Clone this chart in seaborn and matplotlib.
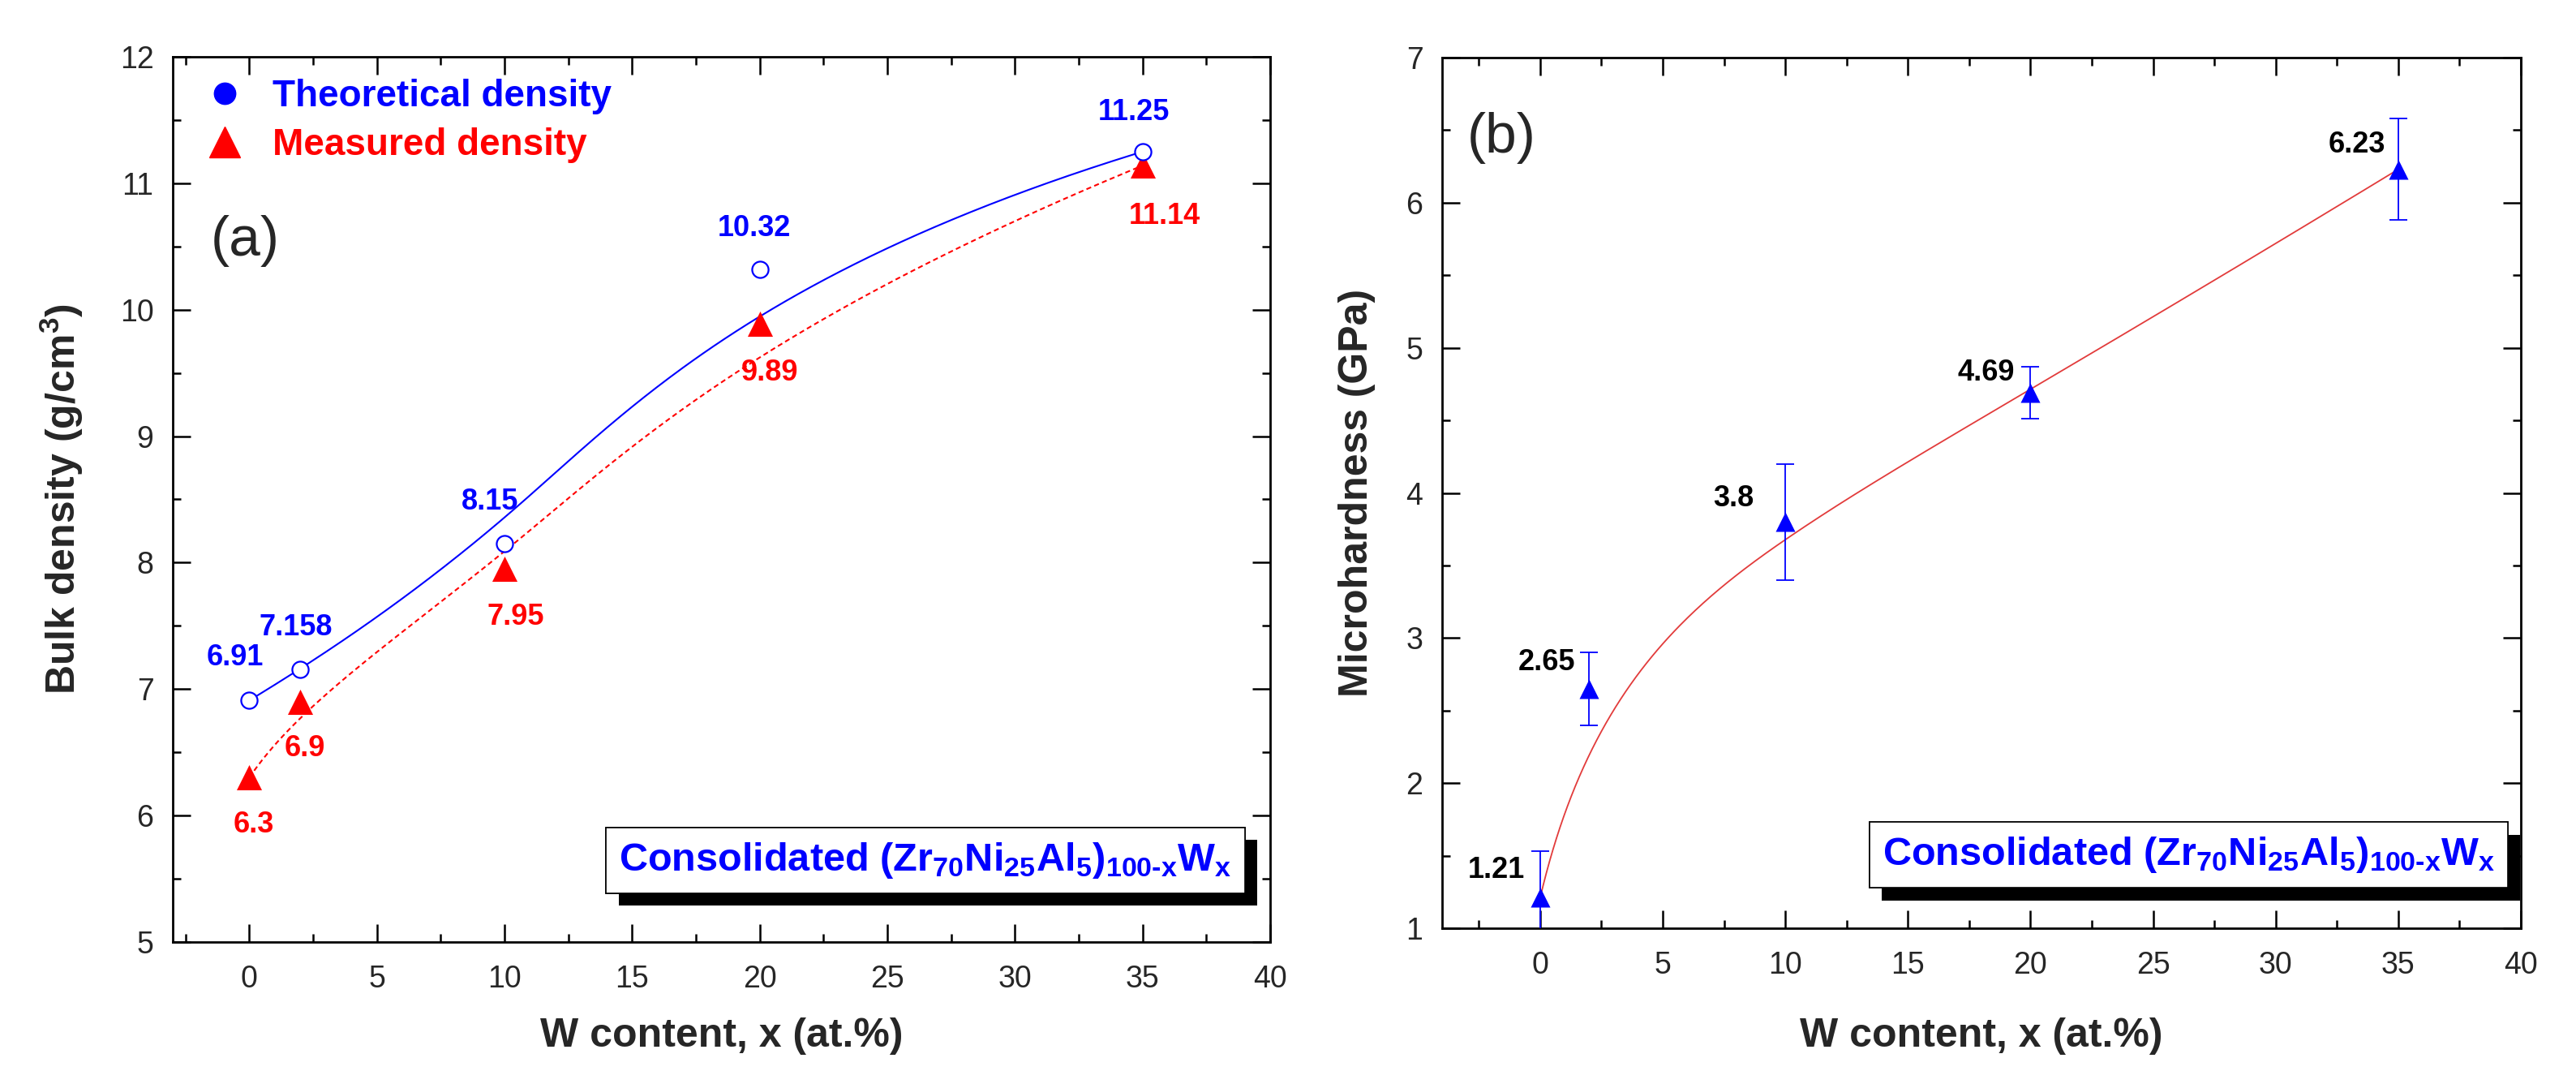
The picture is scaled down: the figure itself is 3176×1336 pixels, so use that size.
import numpy as np
import matplotlib
matplotlib.use('Agg')
import matplotlib.pyplot as plt
import matplotlib.patheffects as pe
from matplotlib.lines import Line2D
from matplotlib.ticker import MultipleLocator
import seaborn as sns

# ---- data ----
w_content = [0, 2, 10, 20, 35]
theo_density = [6.91, 7.158, 8.15, 10.32, 11.25]
meas_density = [6.3, 6.9, 7.95, 9.89, 11.14]
theo_text = ['6.91', '7.158', '8.15', '10.32', '11.25']
meas_text = ['6.3', '6.9', '7.95', '9.89', '11.14']

hardness = [1.21, 2.65, 3.8, 4.69, 6.23]
hardness_err = [0.32, 0.25, 0.40, 0.18, 0.35]
hard_text = ['1.21', '2.65', '3.8', '4.69', '6.23']

# label offsets (data units) from each point
theo_off = [(-0.57, 0.34), (-0.18, 0.33), (-0.57, 0.33), (-0.2, 0.32), (-0.35, 0.31)]
meas_off = [(0.18, -0.37), (0.17, -0.37), (0.45, -0.38), (0.4, -0.39), (0.85, -0.40)]
hard_off = [(-1.79, 0.19), (-1.73, 0.18), (-2.1, 0.16), (-1.8, 0.14), (-1.7, 0.17)]

sample_txt = r'Consolidated (Zr$_{70}$Ni$_{25}$Al$_{5}$)$_{100\text{-}x}$W$_{x}$'


def bspline(px, py, n=300, k=3):
    # clamped uniform B-spline using the data points as control points
    px = np.asarray(px, float)
    py = np.asarray(py, float)
    m = len(px)
    knots = np.r_[[0.0] * k, np.linspace(0, 1, m - k + 1), [1.0] * k]
    t = np.linspace(0, 1, n)
    t[-1] -= 1e-9
    B = np.array([(knots[i] <= t) & (t < knots[i + 1]) for i in range(len(knots) - 1)], float)
    for d in range(1, k + 1):
        Bn = np.zeros((len(knots) - 1 - d, n))
        for i in range(len(knots) - 1 - d):
            left = knots[i + d] - knots[i]
            right = knots[i + d + 1] - knots[i + 1]
            a = (t - knots[i]) / left * B[i] if left > 0 else 0
            b = (knots[i + d + 1] - t) / right * B[i + 1] if right > 0 else 0
            Bn[i] = a + b
        B = Bn
    return B.T @ px, B.T @ py


sns.set_style('ticks')
plt.rcParams['font.family'] = ['Liberation Sans', 'DejaVu Sans']
plt.rcParams['mathtext.fontset'] = 'custom'
plt.rcParams['mathtext.rm'] = 'Liberation Sans:bold'
plt.rcParams['mathtext.bf'] = 'Liberation Sans:bold'
plt.rcParams['mathtext.it'] = 'Liberation Sans:bold'
plt.rcParams['mathtext.default'] = 'bf'

fig = plt.figure(figsize=(31.76, 13.36), dpi=100)
ax1 = fig.add_axes([0.06707, 0.13099, 0.42601, 0.81662])
ax2 = fig.add_axes([0.55982, 0.14371, 0.41877, 0.80314])


def style_axes(ax):
    for s in ax.spines.values():
        s.set_linewidth(2.0)
        s.set_color('black')
    ax.xaxis.set_major_locator(MultipleLocator(5))
    ax.xaxis.set_minor_locator(MultipleLocator(2.5))
    ax.yaxis.set_major_locator(MultipleLocator(1))
    ax.yaxis.set_minor_locator(MultipleLocator(0.5))
    ax.tick_params(which='both', direction='in', top=True, right=True,
                   width=1.8, color='black')
    ax.tick_params(which='major', length=16, labelsize=27)
    ax.tick_params(which='minor', length=7.5)
    ax.tick_params(axis='y', pad=17)
    ax.tick_params(axis='x', pad=20)


def shadow_box(ax, x, y):
    t = ax.text(x, y, sample_txt, transform=ax.transAxes, ha='center',
                va='center', fontsize=35, color='blue', fontweight='bold',
                bbox=dict(boxstyle='square,pad=0.33', fc='white', ec='black', lw=1.2),
                zorder=6)
    t.get_bbox_patch().set_path_effects([
        pe.withSimplePatchShadow(offset=(11, -11), shadow_rgbFace='black', alpha=1.0),
        pe.Normal()])


# ---------------- (a) density ----------------
bx, by = bspline(w_content, theo_density)
sns.lineplot(x=bx, y=by, ax=ax1, sort=False, estimator=None, color='blue', lw=1.5)
mx, my = bspline(w_content, meas_density)
sns.lineplot(x=mx, y=my, ax=ax1, sort=False, estimator=None, color='red', lw=1.5,
             linestyle=(0, (3, 2)))
sns.scatterplot(x=w_content, y=meas_density, ax=ax1, marker='^', s=500,
                color='red', edgecolor='red', linewidth=0, zorder=4)
sns.scatterplot(x=w_content, y=theo_density, ax=ax1, marker='o', s=210,
                facecolor='white', edgecolor='blue', linewidth=1.6, zorder=5)

for xv, yv, lab, (dx, dy) in zip(w_content, theo_density, theo_text, theo_off):
    ax1.text(xv + dx, yv + dy, lab, color='blue', fontsize=26, fontweight='bold',
             ha='center', va='center')
for xv, yv, lab, (dx, dy) in zip(w_content, meas_density, meas_text, meas_off):
    ax1.text(xv + dx, yv + dy, lab, color='red', fontsize=26, fontweight='bold',
             ha='center', va='center')

style_axes(ax1)
ax1.set_xlim(-3, 40)
ax1.set_ylim(5, 12)
ax1.set_xlabel('W content, x (at.%)', fontsize=36, fontweight='bold')
ax1.set_ylabel('Bulk density (g/cm$^3$)', fontsize=36, fontweight='bold')
ax1.xaxis.set_label_coords(0.5, -0.085)
ax1.yaxis.set_label_coords(-0.08, 0.5)

handles = [Line2D([], [], marker='o', ls='none', color='blue', markersize=19),
           Line2D([], [], marker='^', ls='none', color='red', markersize=28)]
ax1.legend(handles, ['Theoretical density', 'Measured density'], loc='upper left',
           bbox_to_anchor=(0.03, 0.975), frameon=False, borderpad=0, borderaxespad=0,
           handlelength=1.0, handletextpad=0.8, labelspacing=0.35,
           prop={'weight': 'bold', 'size': 33}, labelcolor=['blue', 'red'])

ax1.text(0.066, 0.792, '(a)', transform=ax1.transAxes, fontsize=50,
         ha='center', va='center')
shadow_box(ax1, 0.686, 0.092)

# ---------------- (b) microhardness ----------------
hx, hy = bspline(w_content, hardness)
sns.lineplot(x=hx, y=hy, ax=ax2, sort=False, estimator=None, color='#e23b3b', lw=1.3)
ax2.errorbar(w_content, hardness, yerr=hardness_err, fmt='none', ecolor='blue',
             elinewidth=1.3, capsize=8, capthick=1.3, zorder=3)
sns.scatterplot(x=w_content, y=hardness, ax=ax2, marker='^', s=300,
                color='blue', edgecolor='blue', linewidth=0, zorder=4)

for xv, yv, lab, (dx, dy) in zip(w_content, hardness, hard_text, hard_off):
    ax2.text(xv + dx, yv + dy, lab, color='black', fontsize=26, fontweight='bold',
             ha='center', va='center')

style_axes(ax2)
ax2.set_xlim(-4, 40)
ax2.set_ylim(1, 7)
ax2.set_xlabel('W content, x (at.%)', fontsize=36, fontweight='bold')
ax2.set_ylabel('Microhardness (GPa)', fontsize=36, fontweight='bold')
ax2.xaxis.set_label_coords(0.5, -0.1025)
ax2.yaxis.set_label_coords(-0.062, 0.5)

ax2.text(0.055, 0.908, '(b)', transform=ax2.transAxes, fontsize=50,
         ha='center', va='center')
shadow_box(ax2, 0.692, 0.084)

fig.savefig('out.png', dpi=100)
